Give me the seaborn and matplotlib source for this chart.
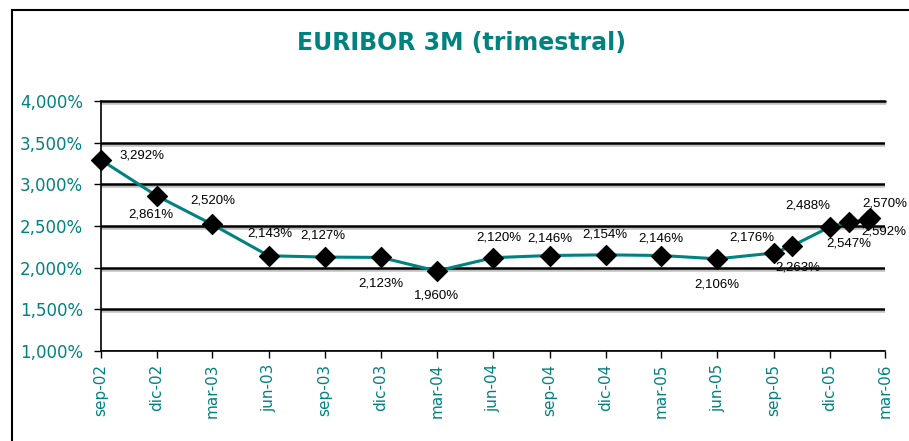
import matplotlib
matplotlib.use("Agg")
import matplotlib.pyplot as plt
import matplotlib.dates as mdates
import matplotlib.patheffects as pe
from matplotlib.patches import Rectangle
import seaborn as sns
import pandas as pd

# data
fechas = ["2002-09-01", "2002-12-01", "2003-03-01", "2003-06-01", "2003-09-01",
          "2003-12-01", "2004-03-01", "2004-06-01", "2004-09-01", "2004-12-01",
          "2005-03-01", "2005-06-01", "2005-09-01", "2005-10-01", "2005-12-01",
          "2006-01-01", "2006-02-01", "2006-02-04"]
euribor = [3.292, 2.861, 2.520, 2.143, 2.127, 2.123, 1.960, 2.120, 2.146, 2.154,
           2.146, 2.106, 2.176, 2.263, 2.488, 2.547, 2.570, 2.592]
etiquetas = ["3,292%", "2,861%", "2,520%", "2,143%", "2,127%", "2,123%", "1,960%",
             "2,120%", "2,146%", "2,154%", "2,146%", "2,106%", "2,176%", "2,263%",
             "2,488%", "2,547%", "2,570%", "2,592%"]
tick_fechas = ["2002-09-01", "2002-12-01", "2003-03-01", "2003-06-01", "2003-09-01",
               "2003-12-01", "2004-03-01", "2004-06-01", "2004-09-01", "2004-12-01",
               "2005-03-01", "2005-06-01", "2005-09-01", "2005-12-01", "2006-03-01"]
tick_labels = ["sep-02", "dic-02", "mar-03", "jun-03", "sep-03", "dic-03", "mar-04",
               "jun-04", "sep-04", "dic-04", "mar-05", "jun-05", "sep-05", "dic-05",
               "mar-06"]
y_ticks = [1.0, 1.5, 2.0, 2.5, 3.0, 3.5, 4.0]
y_labels = ["1,000%", "1,500%", "2,000%", "2,500%", "3,000%", "3,500%", "4,000%"]

# label offsets in pixels (dx, dy)
offsets = [(41, 5), (-6, -19), (1, 24), (1, 22), (-2, 22), (0, -26), (0, -24),
           (6, 20), (0, 17), (-1, 20), (0, 17), (-1, -26), (-22, 15), (6, -22),
           (-22, 21), (0, -21), (17, 17), (14, -13)]

TEAL = "#00827f"

df = pd.DataFrame({"fecha": pd.to_datetime(fechas), "valor": euribor})

sns.set_style("white")
plt.rcParams["font.family"] = ["DejaVu Sans"]

fig = plt.figure(figsize=(9.09, 4.41), dpi=100)
ax = fig.add_axes([101 / 909, 1 - 351 / 441, 784 / 909, 250 / 441])

sns.lineplot(data=df, x="fecha", y="valor", ax=ax, color=TEAL, linewidth=2.2, zorder=3)
sns.scatterplot(data=df, x="fecha", y="valor", ax=ax, marker="D", s=105,
                color="black", edgecolor="black", zorder=4, clip_on=False)

for fx, v, txt, (dx, dy) in zip(df["fecha"], euribor, etiquetas, offsets):
    ax.annotate(txt, (mdates.date2num(fx), v), xytext=(dx, dy),
                textcoords="offset pixels", ha="center", va="center",
                fontsize=9.5, family="Liberation Sans", color="black", zorder=5,
                annotation_clip=False)

ax.set_xlim(pd.Timestamp(tick_fechas[0]), pd.Timestamp(tick_fechas[-1]))
ax.set_ylim(1.0, 4.0)
ax.set_xticks(pd.to_datetime(tick_fechas))
ax.set_xticklabels(tick_labels, rotation=90, color=TEAL, fontsize=11)
ax.set_yticks(y_ticks)
ax.set_yticklabels(y_labels, color=TEAL, fontsize=12)
ax.tick_params(axis="x", direction="out", length=5, width=1, color="black", pad=4,
               bottom=True)
ax.tick_params(axis="y", direction="out", length=5, width=1, color="black", pad=8,
               left=True)
ax.set_xlabel("")
ax.set_ylabel("")

for s in ["top", "right"]:
    ax.spines[s].set_visible(False)
for s in ["left", "bottom"]:
    ax.spines[s].set_color("black")
    ax.spines[s].set_linewidth(1.2)

ax.yaxis.grid(True, color="black", linewidth=1.8, zorder=1)
ax.set_axisbelow(True)
for gl in ax.get_ygridlines():
    gl.set_path_effects([pe.SimpleLineShadow(offset=(0, -1.5), shadow_color="gray", alpha=0.5),
                         pe.Normal()])
ax.get_ygridlines()[-1].set_clip_on(False)

fig.text(0.508, 0.902, "EURIBOR 3M (trimestral)", ha="center", va="center",
         fontsize=17, fontweight="bold", color=TEAL)

fig.patches.append(Rectangle((12 / 909, -0.05), 1.0, 1 - 10 / 441 + 0.05,
                             transform=fig.transFigure, fill=False,
                             edgecolor="black", linewidth=1.5))

fig.savefig("out.png", dpi=100)
plt.close(fig)
